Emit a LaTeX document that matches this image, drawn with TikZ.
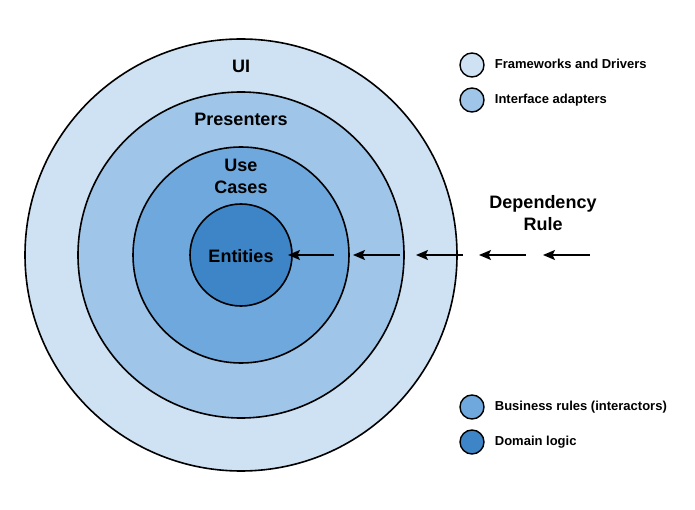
\documentclass[tikz,border=0pt]{standalone}
\usepackage{fontspec}
\setmainfont{Liberation Sans}
\usepackage{xcolor}
\definecolor{ringA}{HTML}{CFE2F3}
\definecolor{ringB}{HTML}{9FC5E8}
\definecolor{ringC}{HTML}{6FA8DC}
\definecolor{ringD}{HTML}{3D85C6}
\usetikzlibrary{arrows.meta,positioning}
\tikzset{
  >={Stealth[length=12pt,width=10pt,inset=2.5pt]},
  ring/.style={circle,draw=black,line width=1.6pt,inner sep=0pt},
  lbl/.style={font=\fontsize{18}{22}\selectfont\bfseries,align=center},
  key/.style={circle,draw=black,line width=1.4pt,minimum size=24pt,inner sep=0pt},
  keytxt/.style={font=\fontsize{13}{15}\selectfont\bfseries,text height=9.5pt,text depth=2.7pt,inner sep=0pt},
  arr/.style={->,draw=black,line width=1.6pt},
}
\begin{document}
\begin{tikzpicture}[x=1pt,y=-1pt,node distance=10pt]
\useasboundingbox (0,0) rectangle (695,510);
% rings, outside in
\node[ring,fill=ringA,minimum size=432pt] (fw) at (241,255) {};
\node[ring,fill=ringB,minimum size=326pt] (ia) at (241,255) {};
\node[ring,fill=ringC,minimum size=216pt] (uc) at (241,255) {};
\node[ring,fill=ringD,minimum size=102pt] (en) at (241,255) {};
\node[lbl] (ui) at (241,66) {UI};
\node[lbl] (pres) at (241,119) {Presenters};
\node[lbl] (use) at (241,176) {Use\\Cases};
\node[lbl] (ent) at (241,256) {Entities};
\node[lbl] (dep) at (543,213) {Dependency\\Rule};
% legend
\node[key,fill=ringA] (k1) at (472,65) {};
\node[key,fill=ringB] (k2) at (472,100) {};
\node[key,fill=ringC] (k3) at (472,407) {};
\node[key,fill=ringD] (k4) at (472,442) {};
\node[keytxt,right=of k1] (t1) {Frameworks and Drivers};
\node[keytxt,right=of k2] (t2) {Interface adapters};
\node[keytxt,right=of k3] (t3) {Business rules (interactors)};
\node[keytxt,right=of k4] (t4) {Domain logic};
% dependency arrows
\foreach \n/\xa/\xb in {1/334/288,2/400/353,3/463/416,4/526/479,5/590/543}{
  \coordinate (s\n) at (\xa,255);
  \coordinate (e\n) at (\xb,255);
  \draw[arr] (s\n)--(e\n);
}
\end{tikzpicture}
\end{document}
